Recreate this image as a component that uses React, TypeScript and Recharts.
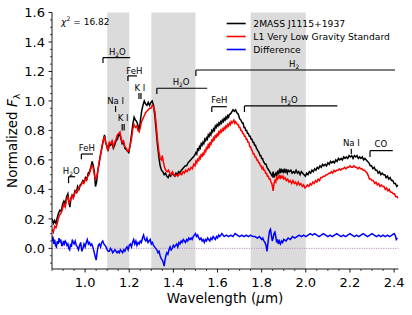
import React from 'react';
import { LineChart, Line, XAxis, YAxis, ReferenceArea, ReferenceLine, ReferenceDot, Legend } from 'recharts';

const FONT = '"DejaVu Sans", Verdana, sans-serif';

// 2MASS J1115+1937 (wavelength um, normalized flux)
const objectSpectrum: number[][] = [
  [0.850,0.20],[0.857,0.17],[0.862,0.19],[0.868,0.17],[0.874,0.21],[0.880,0.24],[0.886,0.26],[0.892,0.25],[0.898,0.30],[0.904,0.32],
  [0.910,0.30],[0.916,0.35],[0.922,0.37],[0.927,0.31],[0.931,0.28],[0.936,0.34],[0.942,0.36],[0.948,0.35],[0.954,0.39],[0.960,0.38],
  [0.966,0.42],[0.972,0.40],[0.978,0.43],[0.984,0.44],[0.990,0.46],[0.996,0.45],[1.002,0.48],[1.008,0.47],[1.014,0.51],[1.020,0.52],
  [1.026,0.55],[1.032,0.59],[1.037,0.56],[1.042,0.52],[1.047,0.42],[1.052,0.45],[1.058,0.53],[1.064,0.58],[1.070,0.64],[1.076,0.68],
  [1.082,0.73],[1.088,0.77],[1.093,0.72],[1.098,0.70],[1.104,0.66],[1.110,0.71],[1.116,0.70],[1.122,0.72],[1.128,0.68],[1.134,0.70],
  [1.140,0.73],[1.146,0.74],[1.152,0.77],[1.158,0.77],[1.163,0.74],[1.168,0.71],[1.174,0.72],[1.180,0.68],[1.186,0.67],[1.192,0.66],
  [1.198,0.65],[1.204,0.70],[1.210,0.77],[1.216,0.84],[1.222,0.89],[1.228,0.87],[1.234,0.86],[1.240,0.83],[1.245,0.80],[1.250,0.86],
  [1.256,0.93],[1.262,0.97],[1.268,1.00],[1.274,0.98],[1.280,0.97],[1.286,0.99],[1.292,0.97],[1.298,0.99],[1.304,1.00],[1.310,0.97],
  [1.316,0.90],[1.322,0.80],[1.328,0.70],[1.334,0.62],[1.340,0.56],[1.346,0.53],[1.352,0.52],[1.358,0.50],[1.364,0.51],[1.370,0.49],
  [1.376,0.48],[1.382,0.50],[1.388,0.49],[1.394,0.51],[1.400,0.50],[1.406,0.49],[1.412,0.51],[1.418,0.50],[1.424,0.52],[1.430,0.51],
  [1.436,0.53],[1.442,0.54],[1.448,0.55],[1.454,0.56],[1.460,0.56],[1.466,0.58],[1.472,0.59],[1.478,0.60],[1.484,0.61],[1.490,0.62],
  [1.496,0.63],[1.502,0.65],[1.506,0.64],[1.510,0.68],[1.514,0.66],[1.518,0.69],[1.522,0.68],[1.526,0.71],[1.530,0.70],[1.534,0.72],
  [1.538,0.71],[1.542,0.74],[1.546,0.73],[1.550,0.75],[1.554,0.74],[1.558,0.77],[1.562,0.76],[1.566,0.78],[1.570,0.77],[1.574,0.80],
  [1.578,0.79],[1.582,0.81],[1.586,0.80],[1.590,0.83],[1.594,0.82],[1.598,0.84],[1.602,0.83],[1.606,0.85],[1.610,0.84],[1.614,0.86],
  [1.618,0.85],[1.622,0.87],[1.626,0.86],[1.630,0.88],[1.634,0.87],[1.638,0.89],[1.642,0.88],[1.646,0.90],[1.650,0.89],[1.654,0.91],
  [1.658,0.91],[1.662,0.92],[1.666,0.93],[1.670,0.94],[1.676,0.93],[1.682,0.94],[1.688,0.92],[1.694,0.91],[1.700,0.88],[1.706,0.87],
  [1.712,0.85],[1.716,0.85],[1.720,0.82],[1.724,0.82],[1.728,0.80],[1.732,0.80],[1.736,0.78],[1.740,0.78],[1.744,0.76],[1.748,0.76],
  [1.752,0.74],[1.756,0.74],[1.760,0.72],[1.764,0.72],[1.768,0.70],[1.772,0.70],[1.776,0.68],[1.780,0.67],[1.784,0.66],[1.788,0.65],
  [1.792,0.63],[1.796,0.63],[1.800,0.61],[1.804,0.61],[1.808,0.59],[1.812,0.58],[1.816,0.57],[1.820,0.57],[1.824,0.55],[1.828,0.54],
  [1.832,0.53],[1.836,0.52],[1.840,0.51],[1.844,0.50],[1.848,0.49],[1.852,0.52],[1.856,0.48],[1.860,0.50],[1.864,0.51],[1.868,0.49],
  [1.872,0.52],[1.876,0.51],[1.880,0.53],[1.884,0.51],[1.888,0.54],[1.892,0.52],[1.896,0.53],[1.900,0.51],[1.904,0.54],[1.908,0.52],
  [1.912,0.53],[1.916,0.51],[1.920,0.53],[1.926,0.52],[1.932,0.53],[1.938,0.51],[1.944,0.52],[1.950,0.51],[1.956,0.53],[1.962,0.51],
  [1.968,0.52],[1.974,0.50],[1.980,0.52],[1.986,0.51],[1.992,0.50],[1.998,0.49],[2.004,0.51],[2.010,0.50],[2.016,0.52],[2.022,0.51],
  [2.028,0.53],[2.034,0.52],[2.040,0.54],[2.046,0.53],[2.052,0.55],[2.058,0.54],[2.064,0.56],[2.070,0.55],[2.076,0.57],[2.082,0.56],
  [2.088,0.57],[2.094,0.56],[2.100,0.58],[2.106,0.57],[2.112,0.59],[2.118,0.58],[2.124,0.59],[2.130,0.58],[2.136,0.60],[2.142,0.59],
  [2.148,0.61],[2.154,0.60],[2.160,0.61],[2.166,0.60],[2.172,0.62],[2.178,0.61],[2.184,0.62],[2.190,0.61],[2.196,0.63],[2.202,0.62],
  [2.208,0.63],[2.214,0.61],[2.220,0.63],[2.226,0.62],[2.232,0.63],[2.238,0.61],[2.244,0.62],[2.250,0.61],[2.256,0.62],[2.262,0.60],
  [2.268,0.61],[2.274,0.60],[2.280,0.59],[2.286,0.58],[2.292,0.56],[2.298,0.56],[2.304,0.54],[2.310,0.55],[2.316,0.53],[2.322,0.53],
  [2.328,0.51],[2.334,0.52],[2.340,0.50],[2.346,0.51],[2.352,0.50],[2.358,0.50],[2.364,0.48],[2.370,0.49],[2.376,0.47],[2.382,0.48],
  [2.388,0.46],[2.394,0.46],[2.400,0.44],[2.406,0.44],[2.412,0.42],[2.418,0.43],
];

// L1 very low gravity standard
const standardSpectrum: number[][] = [
  [0.850,0.13],[0.856,0.11],[0.862,0.15],[0.868,0.14],[0.874,0.17],[0.880,0.21],[0.886,0.23],[0.892,0.24],[0.898,0.27],[0.904,0.30],
  [0.910,0.28],[0.916,0.33],[0.922,0.35],[0.928,0.31],[0.934,0.33],[0.940,0.36],[0.946,0.34],[0.952,0.37],[0.958,0.39],[0.964,0.38],
  [0.970,0.41],[0.976,0.42],[0.982,0.43],[0.988,0.45],[0.994,0.44],[1.000,0.47],[1.006,0.46],[1.012,0.49],[1.018,0.50],[1.024,0.53],
  [1.030,0.56],[1.036,0.55],[1.042,0.50],[1.047,0.47],[1.052,0.48],[1.058,0.53],[1.064,0.59],[1.070,0.63],[1.076,0.69],[1.082,0.73],
  [1.088,0.76],[1.093,0.72],[1.098,0.69],[1.104,0.66],[1.110,0.72],[1.116,0.71],[1.122,0.73],[1.128,0.69],[1.134,0.72],[1.140,0.74],
  [1.146,0.77],[1.152,0.78],[1.158,0.79],[1.163,0.75],[1.168,0.72],[1.174,0.73],[1.180,0.69],[1.186,0.68],[1.192,0.66],[1.198,0.66],
  [1.204,0.70],[1.210,0.74],[1.216,0.81],[1.222,0.84],[1.228,0.82],[1.234,0.83],[1.240,0.80],[1.245,0.79],[1.250,0.82],[1.256,0.86],
  [1.262,0.88],[1.268,0.90],[1.274,0.92],[1.280,0.93],[1.286,0.94],[1.292,0.95],[1.298,0.95],[1.304,0.97],[1.310,0.96],[1.316,0.93],
  [1.322,0.84],[1.328,0.74],[1.334,0.66],[1.340,0.61],[1.346,0.60],[1.350,0.63],[1.354,0.59],[1.360,0.55],[1.366,0.53],[1.372,0.52],
  [1.378,0.53],[1.384,0.51],[1.390,0.50],[1.396,0.52],[1.402,0.50],[1.408,0.49],[1.414,0.50],[1.420,0.49],[1.426,0.50],[1.432,0.51],
  [1.438,0.50],[1.444,0.52],[1.450,0.51],[1.456,0.53],[1.462,0.52],[1.468,0.54],[1.474,0.53],[1.480,0.55],[1.486,0.54],[1.492,0.57],
  [1.498,0.56],[1.502,0.59],[1.506,0.58],[1.510,0.61],[1.514,0.59],[1.518,0.62],[1.522,0.61],[1.526,0.64],[1.530,0.62],[1.534,0.65],
  [1.538,0.63],[1.542,0.67],[1.546,0.65],[1.550,0.69],[1.554,0.67],[1.558,0.71],[1.562,0.68],[1.566,0.72],[1.570,0.70],[1.574,0.74],
  [1.578,0.72],[1.582,0.75],[1.586,0.74],[1.590,0.77],[1.594,0.75],[1.598,0.78],[1.602,0.76],[1.606,0.79],[1.610,0.78],[1.614,0.80],
  [1.618,0.79],[1.622,0.81],[1.626,0.80],[1.630,0.82],[1.634,0.81],[1.638,0.83],[1.642,0.82],[1.646,0.84],[1.650,0.83],[1.654,0.85],
  [1.658,0.84],[1.662,0.86],[1.666,0.85],[1.670,0.86],[1.674,0.87],[1.678,0.85],[1.682,0.86],[1.686,0.85],[1.690,0.84],[1.694,0.84],
  [1.698,0.82],[1.702,0.82],[1.706,0.80],[1.710,0.80],[1.714,0.78],[1.718,0.78],[1.722,0.76],[1.726,0.76],[1.730,0.74],[1.734,0.74],
  [1.738,0.72],[1.742,0.72],[1.746,0.69],[1.750,0.69],[1.754,0.67],[1.758,0.66],[1.762,0.64],[1.766,0.64],[1.770,0.62],[1.774,0.62],
  [1.778,0.60],[1.782,0.60],[1.786,0.58],[1.790,0.58],[1.794,0.56],[1.798,0.56],[1.802,0.54],[1.806,0.55],[1.810,0.53],[1.814,0.53],
  [1.818,0.51],[1.822,0.51],[1.826,0.49],[1.830,0.49],[1.834,0.47],[1.838,0.47],[1.842,0.45],[1.846,0.44],[1.850,0.41],[1.852,0.39],
  [1.856,0.44],[1.860,0.46],[1.864,0.45],[1.868,0.49],[1.872,0.47],[1.876,0.48],[1.880,0.50],[1.884,0.47],[1.888,0.49],[1.892,0.48],
  [1.896,0.49],[1.900,0.47],[1.906,0.48],[1.912,0.46],[1.918,0.47],[1.924,0.45],[1.930,0.46],[1.936,0.44],[1.942,0.46],[1.948,0.44],
  [1.954,0.45],[1.960,0.43],[1.966,0.45],[1.972,0.43],[1.978,0.44],[1.984,0.42],[1.990,0.43],[1.996,0.41],[2.002,0.42],[2.008,0.43],
  [2.014,0.42],[2.020,0.44],[2.026,0.43],[2.032,0.45],[2.038,0.44],[2.044,0.46],[2.050,0.45],[2.056,0.47],[2.062,0.46],[2.068,0.48],
  [2.074,0.48],[2.080,0.49],[2.086,0.49],[2.092,0.50],[2.098,0.50],[2.104,0.51],[2.110,0.51],[2.116,0.52],[2.122,0.51],[2.128,0.53],
  [2.134,0.52],[2.140,0.53],[2.146,0.53],[2.152,0.54],[2.158,0.53],[2.164,0.54],[2.170,0.54],[2.176,0.55],[2.182,0.54],[2.188,0.55],
  [2.194,0.55],[2.200,0.56],[2.206,0.55],[2.212,0.55],[2.218,0.56],[2.224,0.55],[2.230,0.55],[2.236,0.54],[2.242,0.55],[2.248,0.54],
  [2.254,0.54],[2.260,0.53],[2.266,0.53],[2.272,0.52],[2.278,0.51],[2.284,0.49],[2.288,0.47],[2.294,0.47],[2.300,0.46],[2.306,0.46],
  [2.312,0.44],[2.318,0.45],[2.324,0.43],[2.330,0.44],[2.336,0.42],[2.342,0.43],[2.348,0.42],[2.354,0.42],[2.360,0.40],[2.366,0.41],
  [2.372,0.39],[2.378,0.40],[2.384,0.38],[2.390,0.38],[2.396,0.37],[2.402,0.37],[2.408,0.35],[2.414,0.35],[2.418,0.34],
];

// Difference
const differenceSpectrum: number[][] = [
  [0.850,0.05],[0.854,0.08],[0.858,0.03],[0.862,0.06],[0.866,0.02],[0.870,0.01],[0.874,0.05],[0.878,0.03],[0.882,0.07],[0.886,0.04],
  [0.890,0.06],[0.894,0.02],[0.898,0.02],[0.902,0.05],[0.906,0.03],[0.910,0.05],[0.914,0.04],[0.918,0.02],[0.922,0.03],[0.926,0.00],
  [0.930,-0.01],[0.934,0.03],[0.938,0.01],[0.942,0.06],[0.946,0.04],[0.950,0.03],[0.955,0.05],[0.960,0.02],[0.965,0.01],[0.970,-0.01],
  [0.975,0.02],[0.980,0.04],[0.985,-0.02],[0.990,0.00],[0.995,0.03],[1.000,0.01],[1.005,0.04],[1.010,0.06],[1.015,0.03],[1.020,0.04],
  [1.025,0.02],[1.030,0.03],[1.035,0.01],[1.040,-0.02],[1.045,-0.05],[1.050,-0.08],[1.055,-0.02],[1.060,0.02],[1.065,0.03],[1.070,0.01],
  [1.075,0.04],[1.080,0.05],[1.085,0.03],[1.090,0.02],[1.095,0.01],[1.100,-0.01],[1.105,-0.02],[1.110,-0.02],[1.115,0.00],[1.120,-0.01],
  [1.125,-0.03],[1.130,-0.02],[1.135,-0.01],[1.140,-0.02],[1.145,-0.03],[1.150,-0.02],[1.155,-0.03],[1.160,-0.01],[1.165,-0.02],[1.170,-0.03],
  [1.175,-0.01],[1.180,-0.02],[1.185,0.00],[1.190,0.01],[1.195,-0.01],[1.200,0.02],[1.205,0.03],[1.210,0.01],[1.215,0.04],[1.220,0.06],
  [1.225,0.03],[1.230,0.05],[1.235,0.02],[1.240,0.04],[1.245,0.03],[1.250,0.05],[1.255,0.04],[1.260,0.07],[1.265,0.09],[1.270,0.06],
  [1.275,0.05],[1.280,0.07],[1.285,0.04],[1.290,0.05],[1.295,0.06],[1.300,0.03],[1.305,0.04],[1.310,0.02],[1.315,0.01],[1.320,0.00],
  [1.325,-0.01],[1.330,-0.03],[1.335,-0.02],[1.340,-0.05],[1.345,-0.07],[1.350,-0.08],[1.355,-0.10],[1.358,-0.12],[1.362,-0.08],[1.366,-0.05],
  [1.370,-0.03],[1.375,-0.04],[1.380,-0.01],[1.385,0.01],[1.390,-0.01],[1.395,0.00],[1.400,0.02],[1.405,0.01],[1.410,0.02],[1.415,0.03],
  [1.420,0.01],[1.425,0.04],[1.430,0.03],[1.435,0.05],[1.440,0.04],[1.445,0.06],[1.450,0.05],[1.455,0.04],[1.460,0.06],[1.465,0.05],
  [1.470,0.07],[1.475,0.06],[1.480,0.07],[1.485,0.06],[1.490,0.08],[1.495,0.09],[1.500,0.10],[1.505,0.08],[1.510,0.09],[1.515,0.07],
  [1.520,0.06],[1.525,0.07],[1.530,0.05],[1.535,0.06],[1.540,0.04],[1.545,0.06],[1.550,0.05],[1.555,0.07],[1.560,0.06],[1.565,0.05],
  [1.570,0.07],[1.575,0.06],[1.580,0.08],[1.585,0.07],[1.590,0.06],[1.595,0.08],[1.600,0.07],[1.605,0.09],[1.610,0.08],[1.615,0.09],
  [1.620,0.10],[1.625,0.09],[1.630,0.08],[1.640,0.09],[1.650,0.08],[1.660,0.09],[1.670,0.08],[1.680,0.10],[1.690,0.09],[1.700,0.08],
  [1.710,0.09],[1.720,0.08],[1.730,0.09],[1.740,0.08],[1.750,0.09],[1.760,0.08],[1.770,0.08],[1.780,0.07],[1.790,0.08],[1.800,0.06],
  [1.805,0.07],[1.810,0.05],[1.815,0.04],[1.820,0.02],[1.824,-0.02],[1.828,0.03],[1.832,0.08],[1.836,0.12],[1.840,0.13],[1.844,0.09],
  [1.848,0.05],[1.852,0.07],[1.856,0.10],[1.860,0.11],[1.864,0.08],[1.868,0.04],[1.872,0.06],[1.876,0.03],[1.880,0.05],[1.885,0.03],
  [1.890,0.05],[1.895,0.04],[1.900,0.06],[1.910,0.05],[1.920,0.07],[1.930,0.06],[1.940,0.08],[1.950,0.07],[1.960,0.08],[1.970,0.09],
  [1.980,0.08],[1.990,0.09],[2.000,0.08],[2.010,0.09],[2.020,0.10],[2.030,0.09],[2.040,0.10],[2.050,0.09],[2.060,0.08],[2.070,0.09],
  [2.080,0.10],[2.090,0.09],[2.100,0.08],[2.110,0.09],[2.120,0.08],[2.130,0.09],[2.140,0.10],[2.150,0.09],[2.160,0.08],[2.170,0.09],
  [2.180,0.08],[2.190,0.09],[2.200,0.10],[2.210,0.09],[2.220,0.08],[2.230,0.09],[2.240,0.08],[2.250,0.09],[2.260,0.10],[2.270,0.09],
  [2.280,0.08],[2.290,0.09],[2.300,0.10],[2.310,0.09],[2.320,0.08],[2.330,0.09],[2.340,0.08],[2.350,0.09],[2.360,0.08],[2.370,0.09],
  [2.380,0.08],[2.390,0.09],[2.400,0.10],[2.405,0.09],[2.410,0.06],[2.415,0.07],
];

const seriesNames = ['2MASS J1115+1937', 'L1 Very Low Gravity Standard', 'Difference'];
const seriesColors = ['#000000', '#ff0000', '#0000ff'];

const bands: number[][] = [[1.1, 1.2], [1.3, 1.5], [1.75, 2.0]];

// bracket: label, x1, x2, y, tick bottom, label x, label y
const brackets: { label: string; x1: number; x2: number; y: number; yt: number; lx: number; ly: number }[] = [
  { label: 'H_2O', x1: 0.925, x2: 0.955, y: 0.486, yt: 0.442, lx: 0.937, ly: 0.525 },
  { label: 'FeH', x1: 0.983, x2: 1.036, y: 0.640, yt: 0.604, lx: 1.008, ly: 0.679 },
  { label: 'H_2O', x1: 1.081, x2: 1.204, y: 1.294, yt: 1.258, lx: 1.146, ly: 1.332 },
  { label: 'FeH', x1: 1.194, x2: 1.235, y: 1.170, yt: 1.136, lx: 1.223, ly: 1.204 },
  { label: 'H_2O', x1: 1.325, x2: 1.553, y: 1.086, yt: 1.047, lx: 1.435, ly: 1.129 },
  { label: 'H_2', x1: 1.502, x2: 2.404, y: 1.210, yt: 1.170, lx: 1.947, ly: 1.251 },
  { label: 'FeH', x1: 1.574, x2: 1.642, y: 0.961, yt: 0.925, lx: 1.608, ly: 1.007 },
  { label: 'H_2O', x1: 1.722, x2: 2.143, y: 0.966, yt: 0.925, lx: 1.925, ly: 1.007 },
  { label: 'CO', x1: 2.291, x2: 2.394, y: 0.663, yt: 0.620, lx: 2.340, ly: 0.708 },
];

// atomic line marks: label, line positions, y range, label y
const lineMarks: { label: string; xs: number[]; y1: number; y2: number; ly: number }[] = [
  { label: 'Na I', xs: [1.138], y1: 0.926, y2: 0.966, ly: 1.0 },
  { label: 'K I', xs: [1.168, 1.177], y1: 0.799, y2: 0.844, ly: 0.885 },
  { label: 'K I', xs: [1.244, 1.253], y1: 1.014, y2: 1.054, ly: 1.088 },
  { label: 'Na I', xs: [2.206], y1: 0.640, y2: 0.675, ly: 0.715 },
];

const xMajor = [1.0, 1.2, 1.4, 1.6, 1.8, 2.0, 2.2, 2.4];
const yMajor = [0.0, 0.2, 0.4, 0.6, 0.8, 1.0, 1.2, 1.4, 1.6];

const xTicksAll: number[] = [];
for (let i = 0; i <= 31; i++) xTicksAll.push(Math.round((0.85 + i * 0.05) * 1000) / 1000);
const yTicksAll: number[] = [];
for (let i = -2; i <= 32; i++) yTicksAll.push(Math.round(i * 0.05 * 1000) / 1000);

const toPts = (arr: number[][]) => arr.map(([x, y]) => ({ x, y }));
const objectData = toPts(objectSpectrum);
const standardData = toPts(standardSpectrum);
const differenceData = toPts(differenceSpectrum);

const isMajor = (v: number, list: number[]) => list.some((m) => Math.abs(m - v) < 1e-6);

const XTick = (props: any) => {
  const { x, y, payload } = props;
  const axisY = y - 7;
  const major = isMajor(payload.value, xMajor);
  return (
    <g>
      <line x1={x} x2={x} y1={axisY} y2={axisY + (major ? 3.5 : 2)} stroke="#000" strokeWidth={major ? 0.9 : 0.7} />
      {major && (
        <text x={x} y={axisY + 18.3} textAnchor="middle" fontFamily={FONT} fontSize={13} fill="#000">
          {payload.value.toFixed(1)}
        </text>
      )}
    </g>
  );
};

const YTick = (props: any) => {
  const { x, y, payload } = props;
  const axisX = x + 7;
  const major = isMajor(payload.value, yMajor);
  return (
    <g>
      <line x1={axisX} x2={axisX - (major ? 3.5 : 2)} y1={y} y2={y} stroke="#000" strokeWidth={major ? 0.9 : 0.7} />
      {major && (
        <text x={axisX - 7} y={y + 4.7} textAnchor="end" fontFamily={FONT} fontSize={13} fill="#000">
          {payload.value.toFixed(1)}
        </text>
      )}
    </g>
  );
};

const chem = (label: string, size: number) => {
  const idx = label.indexOf('_');
  if (idx < 0) return label;
  const pre = label.slice(0, idx);
  const sub = label.slice(idx + 1, idx + 2);
  const post = label.slice(idx + 2);
  return [
    <tspan key="a">{pre}</tspan>,
    <tspan key="b" fontSize={size * 0.7} dy={size * 0.25}>{sub}</tspan>,
    post ? <tspan key="c" dy={-size * 0.25}>{post}</tspan> : null,
  ];
};

const makeLabel = (label: string, size = 8.5, anchor: 'middle' | 'start' = 'middle') => (p: any) => (
  <text x={p.cx} y={p.cy} textAnchor={anchor} dominantBaseline="central" fontFamily={FONT} fontSize={size} fill="#000">
    {chem(label, size)}
  </text>
);

const chiLabel = (p: any) => (
  <text x={p.cx} y={p.cy} dominantBaseline="central" fontFamily={FONT} fontSize={9} fill="#000">
    <tspan fontStyle="italic">χ</tspan>
    <tspan fontSize={6.3} dy={-3.5}>2</tspan>
    <tspan dy={3.5}> = 16.82</tspan>
  </text>
);

const LegendBox = () => (
  <svg width={190} height={46} style={{ display: 'block', overflow: 'visible' }}>
    {seriesNames.map((n, i) => (
      <g key={n}>
        <line x1={6.7} x2={25.7} y1={8.5 + i * 13} y2={8.5 + i * 13} stroke={seriesColors[i]} strokeWidth={1.6} />
        <text x={33.3} y={8.5 + i * 13} dominantBaseline="central" fontFamily={FONT} fontSize={9.2} fill="#000">{n}</text>
      </g>
    ))}
  </svg>
);

const XLabel = () => (
  <text x={225} y={303} textAnchor="middle" fontFamily={FONT} fontSize={13.5} fill="#000">
    Wavelength (<tspan fontStyle="italic">μ</tspan>m)
  </text>
);

const YLabel = () => (
  <text transform="translate(17,140.75) rotate(-90)" textAnchor="middle" fontFamily={FONT} fontSize={13.5} fill="#000">
    Normalized <tspan fontStyle="italic">F</tspan>
    <tspan fontSize={9.5} dy={3}>λ</tspan>
  </text>
);

export default function App() {
  return (
    <div style={{ position: 'absolute', left: 0, top: 0, width: 412, height: 315, background: '#fff' }}>
      <LineChart width={412} height={315} margin={{ top: 12.5, right: 13.5, left: 0, bottom: 0 }}>
        {bands.map(([a, b], i) => (
          <ReferenceArea key={'band' + i} x1={a} x2={b} fill="#dbdbdb" fillOpacity={1} stroke="none" ifOverflow="visible" />
        ))}
        <XAxis
          dataKey="x"
          type="number"
          domain={[0.85, 2.42]}
          allowDataOverflow
          ticks={xTicksAll}
          interval={0}
          tickSize={3.5}
          tickMargin={3.5}
          tickLine={false}
          tick={<XTick />}
          height={46}
          axisLine={{ stroke: '#000', strokeWidth: 0.9 }}
          label={<XLabel />}
        />
        <XAxis xAxisId="top" orientation="top" type="number" domain={[0.85, 2.42]} height={0} tick={false} tickLine={false} axisLine={{ stroke: '#000', strokeWidth: 0.9 }} />
        <YAxis
          type="number"
          domain={[-0.14, 1.6]}
          allowDataOverflow
          ticks={yTicksAll}
          interval={0}
          tickSize={3.5}
          tickMargin={3.5}
          tickLine={false}
          tick={<YTick />}
          width={52}
          axisLine={{ stroke: '#000', strokeWidth: 0.9 }}
          label={<YLabel />}
        />
        <YAxis yAxisId="right" orientation="right" type="number" domain={[-0.14, 1.6]} width={0} tick={false} tickLine={false} axisLine={{ stroke: '#000', strokeWidth: 0.9 }} />
        <ReferenceLine y={0} stroke="#b98fd0" strokeDasharray="1.2 1.2" strokeWidth={1} />
        <Line data={objectData} dataKey="y" name={seriesNames[0]} stroke={seriesColors[0]} strokeWidth={1.5} dot={false} isAnimationActive={false} type="linear" />
        <Line data={standardData} dataKey="y" name={seriesNames[1]} stroke={seriesColors[1]} strokeWidth={1.5} dot={false} isAnimationActive={false} type="linear" />
        <Line data={differenceData} dataKey="y" name={seriesNames[2]} stroke={seriesColors[2]} strokeWidth={1.5} dot={false} isAnimationActive={false} type="linear" />
        {brackets.map((b, i) => (
          <ReferenceLine key={'bh' + i} segment={[{ x: b.x1, y: b.y }, { x: b.x2, y: b.y }]} stroke="#000" strokeWidth={1.2} ifOverflow="visible" />
        ))}
        {brackets.map((b, i) => (
          <ReferenceLine key={'bt' + i} segment={[{ x: b.x1, y: b.y }, { x: b.x1, y: b.yt }]} stroke="#000" strokeWidth={1.2} ifOverflow="visible" />
        ))}
        {brackets.map((b, i) => (
          <ReferenceDot key={'bl' + i} x={b.lx} y={b.ly} r={0} ifOverflow="visible" shape={makeLabel(b.label)} />
        ))}
        {lineMarks.flatMap((m, i) =>
          m.xs.map((x, j) => (
            <ReferenceLine key={'lm' + i + '_' + j} segment={[{ x, y: m.y1 }, { x, y: m.y2 }]} stroke="#000" strokeWidth={1.2} ifOverflow="visible" />
          ))
        )}
        {lineMarks.map((m, i) => (
          <ReferenceDot key={'ll' + i} x={m.xs.reduce((s, v) => s + v, 0) / m.xs.length} y={m.ly} r={0} ifOverflow="visible" shape={makeLabel(m.label)} />
        ))}
        <ReferenceDot x={0.891} y={1.538} r={0} ifOverflow="visible" shape={chiLabel} />
        <Legend
          layout="horizontal"
          verticalAlign="middle"
          align="center"
          wrapperStyle={{ left: 220, top: 15, width: 190, height: 46 }}
          content={<LegendBox />}
        />
      </LineChart>
    </div>
  );
}
